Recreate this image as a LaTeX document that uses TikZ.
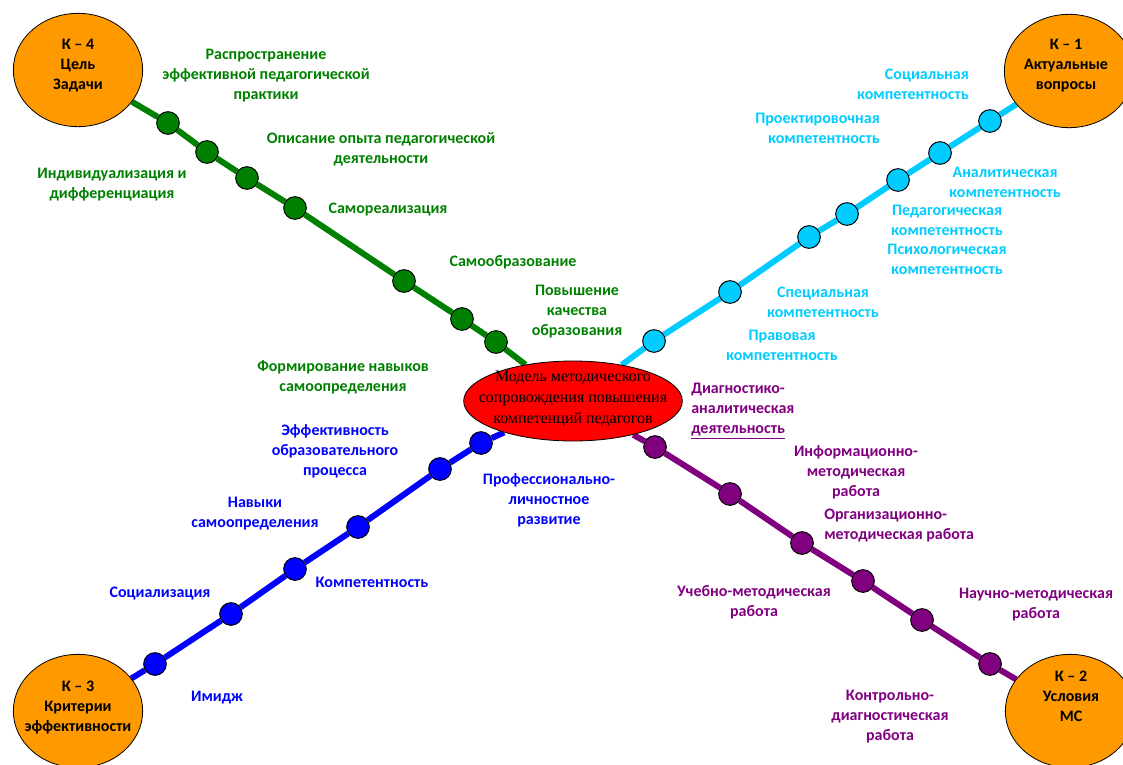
\documentclass[tikz,border=0pt]{standalone}
\usepackage{fontspec}
\setmainfont{Carlito}
\newfontfamily\modelfont{Liberation Serif}
\usetikzlibrary{shapes.geometric,backgrounds}

\definecolor{kgreen}{HTML}{008000}
\definecolor{kcyan}{HTML}{00CCFF}
\definecolor{kblue}{HTML}{0000FF}
\definecolor{kpurple}{HTML}{800080}
\definecolor{korange}{HTML}{FF9900}

\begin{document}
\begin{tikzpicture}[x=0.75pt,y=-0.75pt,
  kbig/.style={ellipse,draw,line width=0.6pt,fill=korange,minimum width=97pt,minimum height=85pt,inner sep=0pt},
  ktext/.style={font=\bfseries\fontsize{12}{15}\selectfont,align=center,inner sep=0pt},
  hub/.style={ellipse,draw,line width=0.6pt,fill=red,minimum width=164pt,minimum height=60pt,inner sep=0pt},
  hubtext/.style={font=\modelfont\fontsize{12}{15.6}\selectfont,align=center,inner sep=0pt},
  station/.style={circle,draw,line width=0.75pt,minimum size=17pt,inner sep=0pt},
  track/.style={line width=4.5pt},
  txt/.style={font=\bfseries\fontsize{12}{15}\selectfont,align=center,inner sep=0pt}
]
\useasboundingbox (0,0) rectangle (1123,764);

% central model and the four K circles
\node[hub] (model) at (573,401) {};
\node[hubtext] (modeltext) at (573,399) {Модель методического\\сопровождения повышения\\компетенций педагогов};

\node[kbig] (k4) at (78,70) {};
\node[ktext] (k4text) at (78,66) {К – 4\\Цель\\Задачи};
\node[kbig] (k1) at (1069,71) {};
\node[ktext] (k1text) at (1066,66) {К – 1\\Актуальные\\вопросы};
\node[kbig] (k3) at (78,711) {};
\node[ktext] (k3text) at (78,708) {К – 3\\Критерии\\эффективности};
\node[kbig] (k2) at (1070,711) {};
\node[ktext] (k2text) at (1071,696) {К – 2\\Условия\\МС};

% green line
\node[station,fill=kgreen] (gd1) at (168,123) {};
\node[station,fill=kgreen] (gd2) at (207,152) {};
\node[station,fill=kgreen] (gd3) at (247,178) {};
\node[station,fill=kgreen] (gd4) at (295,208) {};
\node[station,fill=kgreen] (gd5) at (404,281) {};
\node[station,fill=kgreen] (gd6) at (462,319) {};
\node[station,fill=kgreen] (gd7) at (496,342) {};

% cyan line
\node[station,fill=kcyan] (cd1) at (654,341) {};
\node[station,fill=kcyan] (cd2) at (730,292) {};
\node[station,fill=kcyan] (cd3) at (809,237) {};
\node[station,fill=kcyan] (cd4) at (847,214) {};
\node[station,fill=kcyan] (cd5) at (898,180) {};
\node[station,fill=kcyan] (cd6) at (940,153) {};
\node[station,fill=kcyan] (cd7) at (990,121) {};

% blue line
\node[station,fill=kblue] (bd1) at (481,443) {};
\node[station,fill=kblue] (bd2) at (440,469) {};
\node[station,fill=kblue] (bd3) at (358,527) {};
\node[station,fill=kblue] (bd4) at (295,569) {};
\node[station,fill=kblue] (bd5) at (231,614) {};
\node[station,fill=kblue] (bd6) at (155,664) {};

% purple line
\node[station,fill=kpurple] (pd1) at (655,447) {};
\node[station,fill=kpurple] (pd2) at (730,494) {};
\node[station,fill=kpurple] (pd3) at (802,543) {};
\node[station,fill=kpurple] (pd4) at (863,581) {};
\node[station,fill=kpurple] (pd5) at (922,620) {};
\node[station,fill=kpurple] (pd6) at (990,664) {};

\begin{scope}[on background layer]
\draw[track,kgreen] (k4) -- (gd1) -- (gd2) -- (gd3) -- (gd4) -- (gd5) -- (gd6) -- (gd7) -- (model);
\draw[track,kcyan] (model) -- (cd1) -- (cd2) -- (cd3) -- (cd4) -- (cd5) -- (cd6) -- (cd7) -- (k1);
\draw[track,kblue] (model) -- (bd1) -- (bd2) -- (bd3) -- (bd4) -- (bd5) -- (bd6) -- (k3);
\draw[track,kpurple] (model) -- (pd1) -- (pd2) -- (pd3) -- (pd4) -- (pd5) -- (pd6) -- (k2);
\end{scope}

% green labels
\node[txt,kgreen] (gt1) at (266,76) {Распространение\\эффективной педагогической\\практики};
\node[txt,kgreen] (gt2) at (381,149.5) {Описание опыта педагогической\\деятельности};
\node[txt,kgreen] (gt3) at (112,185) {Индивидуализация и\\дифференциация};
\node[txt,kgreen] (gt4) at (388,210) {Самореализация};
\node[txt,kgreen] (gt5) at (513,262) {Самообразование};
\node[txt,kgreen] (gt6) at (577,312) {Повышение\\качества\\образования};
\node[txt,kgreen] (gt7) at (343,377) {Формирование навыков\\самоопределения};

% cyan labels
\node[txt,kcyan,anchor=east,align=right] (ct1) at (969,84.5) {Социальная\\компетентность};
\node[txt,kcyan,anchor=east,align=right] (ct2) at (880,128) {Проектировочная\\компетентность};
\node[txt,kcyan] (ct3) at (1005,182.5) {Аналитическая\\компетентность};
\node[txt,kcyan] (ct4) at (947,220) {Педагогическая\\компетентность};
\node[txt,kcyan] (ct5) at (947,259.5) {Психологическая\\компетентность};
\node[txt,kcyan] (ct6) at (823,302) {Специальная\\компетентность};
\node[txt,kcyan] (ct7) at (782,345) {Правовая\\компетентность};

% purple labels
\node[txt,kpurple,anchor=west,align=left] (pt1) at (691,411) {Диагностико-\\аналитическая\\\underline{деятельность}};
\node[txt,kpurple] (pt2) at (856,472.5) {Информационно-\\методическая\\работа};
\node[txt,kpurple,anchor=west,align=left] (pt3) at (824,525.5) {Организационно-\\методическая работа};
\node[txt,kpurple] (pt4) at (754,602.5) {Учебно-методическая\\работа};
\node[txt,kpurple] (pt5) at (1036,604.5) {Научно-методическая\\работа};
\node[txt,kpurple] (pt6) at (890,717) {Контрольно-\\диагностическая\\работа};

% blue labels
\node[txt,kblue] (bt1) at (335,451.5) {Эффективность\\образовательного\\процесса};
\node[txt,kblue] (bt2) at (255,514) {Навыки\\самоопределения};
\node[txt,kblue] (bt3) at (549,500.5) {Профессионально-\\личностное\\развитие};
\node[txt,kblue] (bt4) at (372,582) {Компетентность};
\node[txt,kblue] (bt5) at (160,594) {Социализация};
\node[txt,kblue] (bt6) at (217,698) {Имидж};
\end{tikzpicture}
\end{document}
